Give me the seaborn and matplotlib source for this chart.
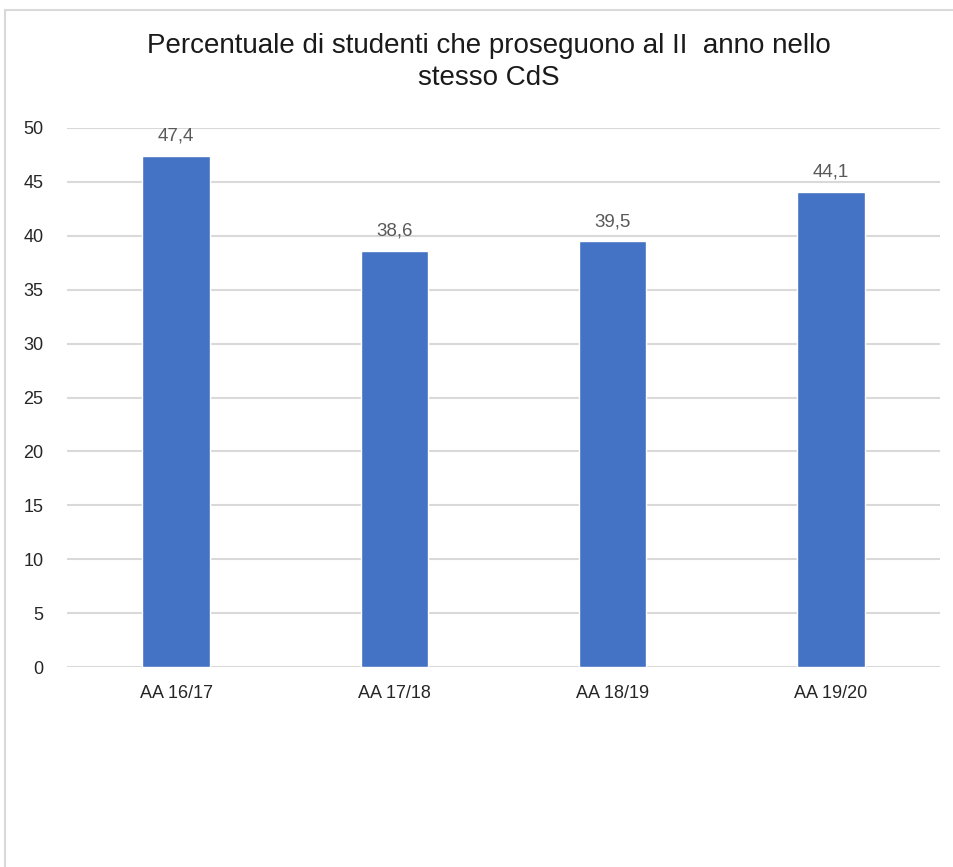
import matplotlib
matplotlib.use("Agg")
import matplotlib.pyplot as plt
import seaborn as sns
import pandas as pd
from matplotlib.lines import Line2D

categories = ["AA 16/17", "AA 17/18", "AA 18/19", "AA 19/20"]
values = [47.4, 38.6, 39.5, 44.1]
value_labels = ["47,4", "38,6", "39,5", "44,1"]
yticks = [0, 5, 10, 15, 20, 25, 30, 35, 40, 45, 50]
title = "Percentuale di studenti che proseguono al II  anno nello\nstesso CdS"

sns.set_theme(style="white")
plt.rcParams['font.family'] = ['Liberation Sans', 'DejaVu Sans']

df = pd.DataFrame({"cat": categories, "val": values})

W, H = 954, 867
fig = plt.figure(figsize=(W/100, H/100), dpi=100)
left, right = 67/W, 940/W
bottom, top = 1-667/H, 1-128/H
ax = fig.add_axes([left, bottom, right-left, top-bottom])

sns.barplot(data=df, x="cat", y="val", color="#4472C4", width=0.31, ax=ax,
            saturation=1, zorder=3)

ax.set_xlim(-0.5, 3.5)
ax.set_ylim(0, 50)
ax.set_yticks(yticks)
ax.set_yticklabels([str(t) for t in yticks], fontsize=13, color="#262626")
ax.tick_params(axis='y', length=0, pad=17)
ax.tick_params(axis='x', length=0, pad=13, labelsize=13, labelcolor="#262626")
ax.set_xlabel("")
ax.set_ylabel("")
ax.yaxis.grid(True, color="#d9d9d9", linewidth=1.5, zorder=0)
ax.set_axisbelow(True)
for s in ax.spines.values():
    s.set_visible(False)

for i, (v, lbl) in enumerate(zip(values, value_labels)):
    ax.annotate(lbl, (i, v), xytext=(0, 8), textcoords="offset points",
                ha="center", va="bottom", fontsize=13.5, color="#595959")

fig.text(489/W, 1-62/H, title, ha="center", va="center", fontsize=20,
         color="#1a1a1a", linespacing=1.3)

# chart border
fig.add_artist(Line2D([5/W, 5/W], [0, 1-10/H], transform=fig.transFigure,
                      color="#d9d9d9", linewidth=1.5))
fig.add_artist(Line2D([5/W, 1], [1-10/H, 1-10/H], transform=fig.transFigure,
                      color="#d9d9d9", linewidth=1.5))

fig.savefig("out.png", dpi=100)
